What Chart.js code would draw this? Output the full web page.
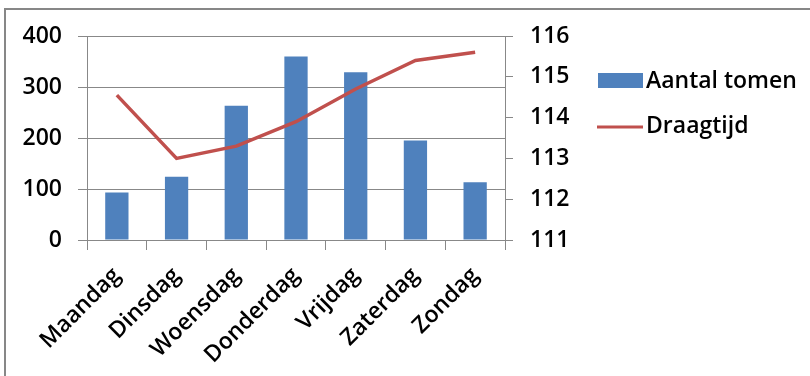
<!DOCTYPE html>
<html>
<head>
<meta charset="utf-8">
<script src="https://cdn.jsdelivr.net/npm/chart.js@4/dist/chart.umd.min.js"></script>
<style>
  html, body { margin: 0; padding: 0; background: #fff; }
  #wrap { position: relative; width: 810px; height: 376px; overflow: hidden; }
  #frame { position: absolute; left: 4px; top: 8px; right: -10px; bottom: -10px;
           border-top: 2px solid #878787; border-left: 2px solid #878787; pointer-events: none; }
  canvas { position: absolute; left: 0; top: 0; }
</style>
</head>
<body>
<div id="wrap">
  <canvas id="c" width="810" height="376"></canvas>
  <div id="frame"></div>
</div>
<script>
// Weekdagen en waarden
const dagen = ['Maandag', 'Dinsdag', 'Woensdag', 'Donderdag', 'Vrijdag', 'Zaterdag', 'Zondag'];
const aantalTomen = [93, 124, 263, 360, 329, 195, 113];
const draagtijd = [114.55, 113.0, 113.3, 113.9, 114.7, 115.4, 115.6];
const linksTicks = [0, 100, 200, 300, 400];
const rechtsTicks = [111, 112, 113, 114, 115, 116];

const BLAUW = '#4F81BD';
const ROOD = '#C0504D';
const GRIJS = '#888888';
const FONT = { family: '"Open Sans", sans-serif', size: 23, weight: '600' };

// Legenda rechts naast de grafiek
const legendaPlugin = {
  id: 'legenda',
  afterDraw(chart) {
    const ctx = chart.ctx;
    const staaf = chart.data.datasets.find(d => d.type === 'bar');
    const lijn = chart.data.datasets.find(d => d.type === 'line');
    ctx.save();
    ctx.font = `${FONT.weight} ${FONT.size}px ${FONT.family}`;
    ctx.textBaseline = 'middle';
    ctx.fillStyle = staaf.backgroundColor;
    ctx.fillRect(598, 73, 45, 15);
    ctx.fillStyle = '#000';
    ctx.fillText(staaf.label, 646, 81);
    ctx.strokeStyle = lijn.borderColor;
    ctx.lineWidth = 3;
    ctx.beginPath();
    ctx.moveTo(597, 127);
    ctx.lineTo(643, 127);
    ctx.stroke();
    ctx.fillText(lijn.label, 646, 126);
    ctx.restore();
  }
};

new Chart(document.getElementById('c'), {
  data: {
    labels: dagen,
    datasets: [
      {
        type: 'line',
        label: 'Draagtijd',
        data: draagtijd,
        yAxisID: 'y1',
        borderColor: ROOD,
        borderWidth: 3.5,
        pointRadius: 0,
        tension: 0,
        order: 0
      },
      {
        type: 'bar',
        label: 'Aantal tomen',
        data: aantalTomen,
        yAxisID: 'y',
        backgroundColor: BLAUW,
        categoryPercentage: 1,
        barPercentage: 0.39,
        order: 1
      }
    ]
  },
  options: {
    responsive: false,
    animation: false,
    layout: { padding: { top: 36, left: 0, right: 0, bottom: 0 } },
    plugins: { legend: { display: false }, tooltip: { enabled: false } },
    scales: {
      x: {
        offset: true,
        grid: { offset: true, drawOnChartArea: false, color: GRIJS, tickLength: 10 },
        border: { color: GRIJS },
        ticks: { color: '#000', font: FONT, minRotation: 45, maxRotation: 45, padding: 12 },
        afterFit(s) { s.height = 136; }
      },
      y: {
        position: 'left',
        min: 0, max: 400,
        afterBuildTicks(s) { s.ticks = linksTicks.map(v => ({ value: v })); },
        grid: { color: GRIJS, tickLength: 9 },
        border: { color: GRIJS },
        ticks: { color: '#000', font: FONT, padding: 16 },
        afterFit(s) { s.width = 87; }
      },
      y1: {
        position: 'right',
        min: 111, max: 116,
        afterBuildTicks(s) { s.ticks = rechtsTicks.map(v => ({ value: v })); },
        grid: { drawOnChartArea: false, color: GRIJS, tickLength: 8 },
        border: { color: GRIJS },
        ticks: { color: '#000', font: FONT, padding: 17 },
        afterFit(s) { s.width = 305; }
      }
    }
  },
  plugins: [legendaPlugin]
});
</script>
</body>
</html>
